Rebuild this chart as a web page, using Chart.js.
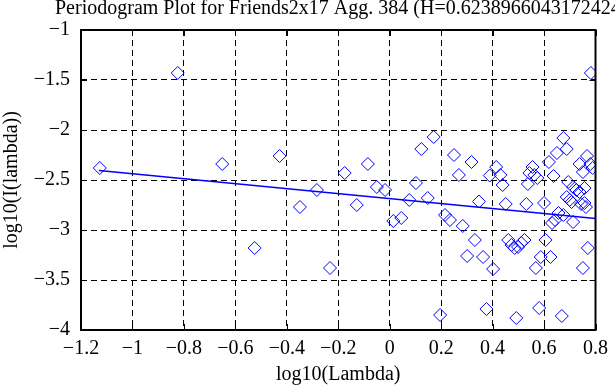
<!DOCTYPE html>
<html><head><meta charset="utf-8">
<script src="https://cdn.jsdelivr.net/npm/chart.js@4/dist/chart.umd.min.js"></script>
<style>html,body{margin:0;padding:0;background:#fff;overflow:hidden}#wrap{width:615px;height:385px;position:relative}</style>
</head><body><div id="wrap"><canvas id="c" width="615" height="385"></canvas></div>
<script>
const titleText = 'Periodogram Plot for Friends2x17 Agg. 384 (H=0.6238966043172424)';
const xAxisLabel = 'log10(Lambda)';
const yAxisLabel = 'log10(I(lambda))';

const logLambda = [
  -1.127, -0.824, -0.651, -0.525, -0.428, -0.349, -0.283, -0.232, -0.175, -0.128,
  -0.085, -0.050, -0.018, 0.014, 0.045, 0.076, 0.102, 0.123, 0.148, 0.171,
  0.196, 0.215, 0.234, 0.250, 0.269, 0.284, 0.301, 0.318, 0.331, 0.347,
  0.363, 0.376, 0.389, 0.402, 0.414, 0.430, 0.439, 0.451, 0.461, 0.473,
  0.486, 0.492, 0.499, 0.511, 0.524, 0.531,
  0.537, 0.543, 0.555, 0.562, 0.568, 0.574, 0.581, 0.587, 0.600, 0.606,
  0.619, 0.625, 0.631, 0.637, 0.643, 0.650, 0.656, 0.669, 0.675, 0.675,
  0.688, 0.688, 0.694, 0.700, 0.707, 0.713, 0.713, 0.726, 0.738, 0.738,
  0.744, 0.751, 0.751, 0.757, 0.757, 0.763, 0.767, 0.770, 0.780, 0.782, 0.789
];
const logI = [
  -2.38, -1.43, -2.34, -3.18, -2.26, -2.77, -2.60, -3.38, -2.43, -2.75,
  -2.34, -2.57, -2.60, -2.91, -2.88, -2.70, -2.53, -2.19, -2.68, -2.07,
  -3.85, -2.85, -2.90, -2.25, -2.45, -2.96, -3.26, -2.32, -3.10, -2.715,
  -3.27, -3.79, -2.455, -3.39, -2.37, -2.45, -2.55, -2.74, -3.10, -3.15,
  -3.18, -3.88, -3.17, -3.13, -3.10, -2.74,
  -2.54, -2.43, -2.37, -2.45, -3.38, -2.48, -3.78, -3.27, -2.73, -3.10,
  -2.32, -3.27, -2.93, -2.46, -2.90, -2.23, -2.83, -3.86, -2.08, -2.85,
  -2.19, -2.67, -2.52, -2.70, -2.72, -2.57, -2.92, -2.60, -2.62, -2.34,
  -2.74, -3.38, -2.42, -2.58, -2.73, -2.77, -2.26, -3.18, -2.34, -1.43, -2.38
];
const fitX = [-1.13, 0.80];
const fitY = [-2.405, -2.885];
const xTicks = [-1.2, -1.0, -0.8, -0.6, -0.4, -0.2, 0, 0.2, 0.4, 0.6, 0.8];
const yTicks = [-4, -3.5, -3, -2.5, -2, -1.5, -1];

const FONT = 'Liberation Serif';
function fmt(v) {
  const r = Math.round(v * 10) / 10;
  if (r === 0) return '0';
  return (r < 0 ? '\u2212' : '') + String(Math.abs(r));
}

const framePlugin = {
  id: 'frame',
  afterDatasetsDraw(chart) {
    const ctx = chart.ctx, a = chart.chartArea;
    const xs = chart.scales.x, ys = chart.scales.y;
    ctx.save();
    ctx.strokeStyle = '#000';
    ctx.lineWidth = 1;
    ctx.beginPath();
    const tl = 6;
    xTicks.forEach(v => {
      const px = Math.round(xs.getPixelForValue(v)) + 0.5;
      ctx.moveTo(px, a.bottom); ctx.lineTo(px, a.bottom - tl);
      ctx.moveTo(px, a.top); ctx.lineTo(px, a.top + tl);
    });
    yTicks.forEach(v => {
      const py = Math.round(ys.getPixelForValue(v)) + 0.5;
      ctx.moveTo(a.left, py); ctx.lineTo(a.left + tl, py);
      ctx.moveTo(a.right, py); ctx.lineTo(a.right - tl, py);
    });
    ctx.stroke();
    ctx.lineWidth = 2;
    ctx.strokeRect(a.left, a.top, a.right - a.left, a.bottom - a.top);
    ctx.restore();
  }
};
const titlePlugin = {
  id: 'ttl',
  afterDraw(chart) {
    const ctx = chart.ctx;
    ctx.save();
    ctx.fillStyle = '#000';
    ctx.font = '20px "' + FONT + '"';
    ctx.textAlign = 'left';
    ctx.textBaseline = 'alphabetic';
    ctx.fillText(titleText, 55, 14);
    ctx.restore();
  }
};

new Chart(document.getElementById('c'), {
  type: 'scatter',
  data: {
    datasets: [
      {
        type: 'scatter',
        data: logLambda.map((x, i) => ({ x: x, y: logI[i] })),
        pointStyle: 'rectRot',
        radius: 6.5,
        borderColor: '#0000ff',
        backgroundColor: 'rgba(0,0,0,0)',
        borderWidth: 1,
        order: 2
      },
      {
        type: 'line',
        data: fitX.map((x, i) => ({ x: x, y: fitY[i] })),
        borderColor: '#0000ff',
        borderWidth: 1.6,
        pointRadius: 0,
        fill: false,
        order: 1
      }
    ]
  },
  options: {
    responsive: false,
    animation: false,
    devicePixelRatio: 1,
    layout: { padding: { top: 30, right: 7, left: 0, bottom: 0 } },
    plugins: { legend: { display: false }, tooltip: { enabled: false }, title: { display: false } },
    scales: {
      x: {
        type: 'linear', min: -1.2, max: 0.8,
        afterBuildTicks: s => { s.ticks = xTicks.map(v => ({ value: v })); },
        afterFit: s => { s.height = 55; },
        grid: { color: '#000', lineWidth: 1, drawTicks: false },
        border: { display: false, dash: [6, 4] },
        ticks: { callback: v => fmt(v), color: '#000', padding: 7, maxRotation: 0, autoSkip: false,
                 font: { family: FONT, size: 20 } },
        title: { display: true, text: xAxisLabel, color: '#000', font: { family: FONT, size: 20, lineHeight: 1.0 },
                 padding: { top: 0, bottom: 0 } }
      },
      y: {
        type: 'linear', min: -4, max: -1,
        afterBuildTicks: s => { s.ticks = yTicks.map(v => ({ value: v })); },
        afterFit: s => { s.width = 81; },
        grid: { color: '#000', lineWidth: 1, drawTicks: false },
        border: { display: false, dash: [6, 4] },
        ticks: { callback: v => fmt(v), color: '#000', padding: 11, autoSkip: false,
                 font: { family: FONT, size: 20 } },
        title: { display: true, text: yAxisLabel, color: '#000', font: { family: FONT, size: 20 },
                 padding: { top: 0, bottom: 0 } }
      }
    }
  },
  plugins: [framePlugin, titlePlugin]
});
</script>
</body></html>
